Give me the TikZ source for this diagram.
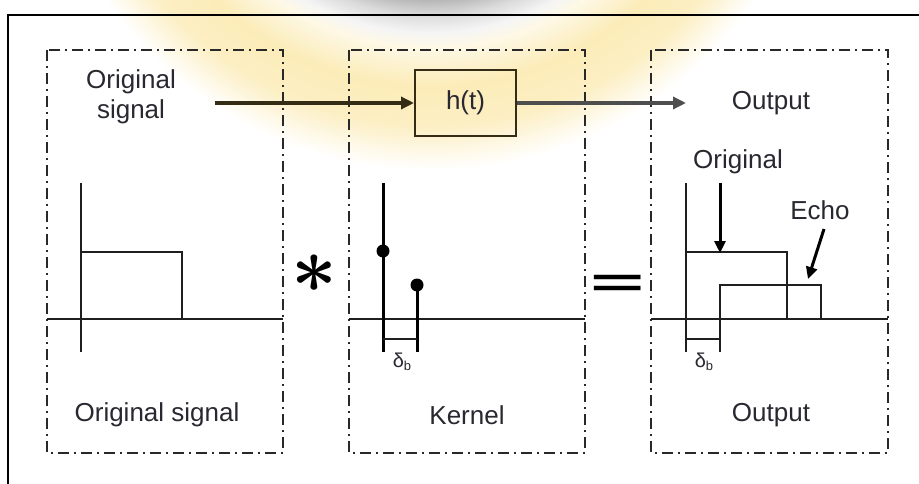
\documentclass[tikz,border=0pt]{standalone}
\usepackage{fontspec}
\setmainfont{Liberation Sans}
\usetikzlibrary{arrows.meta}
\definecolor{wmy}{RGB}{250,228,155}
\definecolor{txtc}{RGB}{40,40,48}
\definecolor{olv}{RGB}{52,44,20}
\definecolor{arrg}{RGB}{78,78,78}
\definecolor{ddc}{RGB}{40,40,40}
\pgfdeclareradialshading{wmring}{\pgfpointorigin}{color(0bp)=(white); color(12.5bp)=(white); color(14.06bp)=(black!28); color(15bp)=(black!14); color(16.1bp)=(black!4); color(17bp)=(wmy!25); color(19.4bp)=(wmy!70); color(21.9bp)=(wmy!60); color(23.75bp)=(wmy!20); color(24.7bp)=(white); color(50bp)=(white)}
\begin{document}
\begin{tikzpicture}[x=1pt,y=-1pt,
  txt/.style={text=txtc, font=\fontsize{26}{30}\selectfont, inner sep=0pt},
  dd/.style={draw=ddc, line width=1.8pt, dash pattern=on 11pt off 5pt on 2pt off 5pt},
  ax/.style={line width=2pt, draw=black!88},
  stem/.style={line width=3pt, draw=black},
  arr/.style={line width=3.5pt, -{Triangle[length=13pt,width=12pt]}},
  small/.style={text=txtc, font=\fontsize{20}{20}\selectfont, inner sep=0pt}
]
\useasboundingbox (0,0) rectangle (919,484);
\clip (0,0) rectangle (919,484);
% watermark ring
\shade[shading=wmring] (430,-225) circle[radius=400pt];
% outer frame
\draw[line width=1.6pt, black] (8,520) -- (8,15) -- (940,15);
% dash-dot panels
\draw[dd] (47,50) rectangle (283,453);
\draw[dd] (349,50) rectangle (585,453);
\draw[dd] (651,50) rectangle (888,453);
% top signal chain
\node[txt, align=center] (insig) at (131,97) {Original\\signal};
\coordinate (a0) at (215,103);
\node[draw=olv, line width=2pt, minimum width=101pt, minimum height=66pt, txt] (h) at (465.5,103) {h(t)};
\draw[arr, draw=olv, fill=olv] (a0) -- (h.west);
\coordinate (a1) at (686,103);
\draw[arr, draw=arrg, fill=arrg] (h.east) -- (a1);
\node[txt] (outtop) at (771,103) {Output};
% panel 1: rectangular pulse
\draw[ax] (81,183) -- (81,352);
\draw[ax] (47,319) -- (283,319);
\draw[ax] (81,252) -- (182,252) -- (182,319);
% operator symbols
\node[inner sep=0pt, font=\fontsize{24.88}{26}\selectfont\boldmath, scale=3.2] (ast) at (314,274) {$\ast$};
\node[inner sep=0pt, font=\fontsize{60}{60}\selectfont\bfseries, xscale=1.55, yscale=0.68] (eq) at (618,286) {=};
% panel 2: kernel
\draw[ax] (349,319) -- (585,319);
\draw[stem] (383,183) -- (383,352);
\draw[stem] (417,285) -- (417,352);
\fill (383,251) circle[radius=6.5pt];
\fill (417,285) circle[radius=6.5pt];
\draw[ax] (383,339) -- (417,339);
\node[small] (d1) at (402,362) {δ\raisebox{-3pt}{\fontsize{13}{13}\selectfont b}};
% panel 3: output
\draw[ax] (651,319) -- (888,319);
\draw[ax] (686,183) -- (686,352);
\draw[ax] (686,252) -- (787,252) -- (787,319);
\draw[ax] (720,352) -- (720,285) -- (821,285) -- (821,319);
\draw[ax] (686,339) -- (720,339);
\node[small] (d2) at (704,362) {δ\raisebox{-3pt}{\fontsize{13}{13}\selectfont b}};
\node[txt] (orig) at (738,162) {Original};
\node[txt] (echo) at (820,210) {Echo};
\coordinate (o0) at (720,183);
\coordinate (o1) at (720,253);
\draw[line width=3pt, -{Triangle[length=12pt,width=11pt]}] (o0) -- (o1);
\coordinate (e0) at (824,229);
\coordinate (e1) at (808,279);
\draw[line width=3pt, -{Triangle[length=12pt,width=11pt]}] (e0) -- (e1);
% bottom captions
\node[txt] (cap1) at (157,415) {Original signal};
\node[txt] (cap2) at (467,415) {Kernel};
\node[txt] (cap3) at (771,415) {Output};
\end{tikzpicture}
\end{document}
